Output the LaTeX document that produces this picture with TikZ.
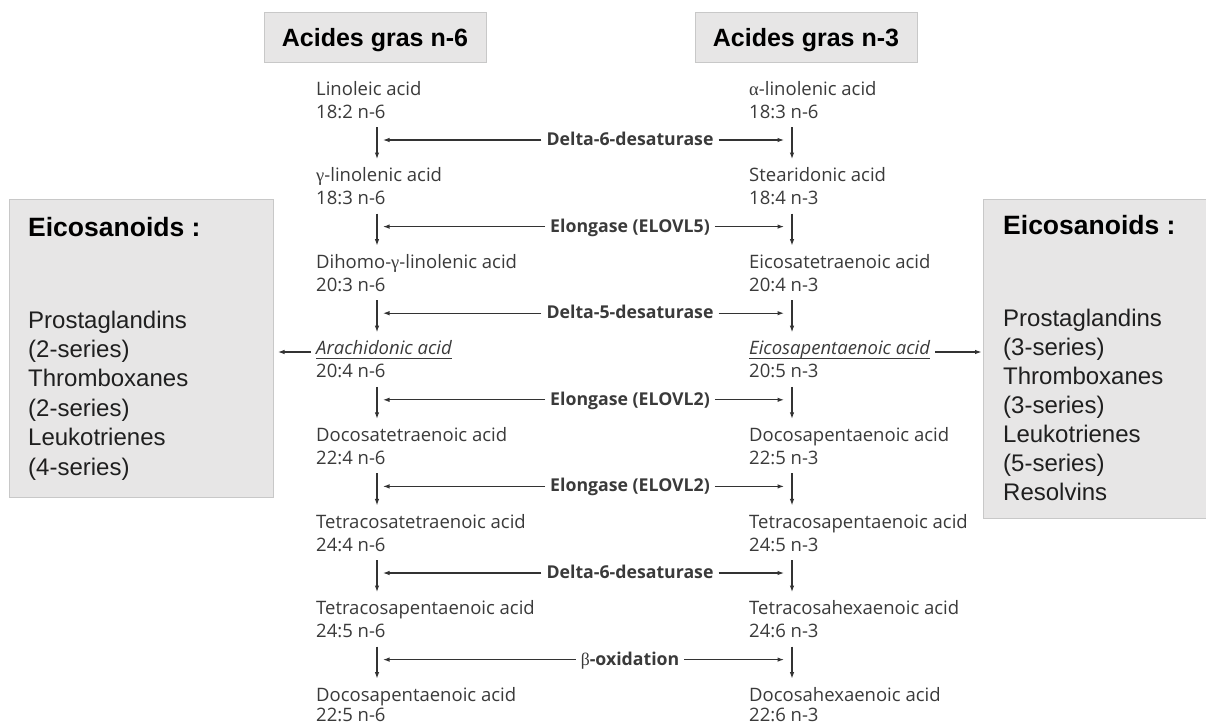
\documentclass[tikz,border=0pt]{standalone}
\usepackage{fontspec}
\setmainfont{Open Sans}
\newfontfamily\arialf{Liberation Sans}
\newfontfamily\grk{Liberation Serif}
\usetikzlibrary{arrows.meta,calc}
\definecolor{txt}{HTML}{3A3A3A}
\definecolor{lin}{HTML}{333333}
\definecolor{boxfill}{HTML}{E7E6E6}
\definecolor{boxline}{HTML}{C8C8C8}
\begin{document}
\begin{tikzpicture}[x=1pt,y=-1pt,
 acid/.style={anchor=base west, inner sep=0pt, font=\fontsize{18.5}{22}\selectfont, text=txt},
 enz/.style={anchor=base, inner xsep=5pt, inner ysep=0pt, font=\fontsize{17.7}{21}\selectfont\bfseries, text=txt},
 arr/.style={draw=lin, line width=1.1pt, -{Latex[length=6.5pt,width=4.5pt]}},
 hbox/.style={draw=boxline, fill=boxfill, line width=1pt, minimum width=222pt, minimum height=49pt, font=\arialf\bfseries\fontsize{25}{30}\selectfont, text height=18pt, text depth=0pt, inner sep=0pt},
 ebox/.style={draw=boxline, fill=boxfill, line width=1pt, anchor=north west, inner sep=0pt},
 etitle/.style={anchor=base west, inner sep=0pt, font=\arialf\bfseries\fontsize{26.5}{30}\selectfont},
 eitem/.style={anchor=base west, inner sep=0pt, font=\arialf\fontsize{24}{29}\selectfont, text=black!88},
 ul/.style={draw=txt, line width=0.9pt}
]
\useasboundingbox (0,0) rectangle (1206,725);
\fill[white] (0,0) rectangle (1206,725);

% headers
\node[hbox] (h6) at (375,37.5) {Acides gras n-6};
\node[hbox] (h3) at (806,37.5) {Acides gras n-3};

% eicosanoid boxes
\node[ebox, minimum width=264pt, minimum height=298pt] (boxL) at (9,199) {};
\node[ebox, minimum width=230pt, minimum height=319pt] (boxR) at (983,199) {};
\node[etitle] (tL) at (28,236) {Eicosanoids :};
\node[etitle] (tR) at (1003,234) {Eicosanoids :};
\foreach \t [count=\k] in {Prostaglandins,(2-series),Thromboxanes,(2-series),Leukotrienes,(4-series)}
  \node[eitem] (iL\k) at (28,{328+29.4*(\k-1)}) {\t};
\foreach \t [count=\k] in {Prostaglandins,(3-series),Thromboxanes,(3-series),Leukotrienes,(5-series),Resolvins}
  \node[eitem] (iR\k) at (1003,{326+29*(\k-1)}) {\t};

% column coordinates
\coordinate (vl) at (377,0);
\coordinate (vr) at (792,0);
\coordinate (tl) at (383,0);
\coordinate (tr) at (784,0);

% n-6 column
\node[acid] (L1) at (316,95) {Linoleic acid};
\node[acid] (Ln1) at (316,118) {18:2 n-6};
\node[acid] (L2) at (316,181.6) {{\grk γ}-linolenic acid};
\node[acid] (Ln2) at (316,204.6) {18:3 n-6};
\node[acid] (L3) at (316,268.2) {Dihomo-{\grk γ}-linolenic acid};
\node[acid] (Ln3) at (316,291.2) {20:3 n-6};
\node[acid] (L4) at (316,354.8) {\itshape Arachidonic acid};
\node[acid] (Ln4) at (316,377.8) {20:4 n-6};
\node[acid] (L5) at (316,441.4) {Docosatetraenoic acid};
\node[acid] (Ln5) at (316,464.4) {22:4 n-6};
\node[acid] (L6) at (316,528) {Tetracosatetraenoic acid};
\node[acid] (Ln6) at (316,551) {24:4 n-6};
\node[acid] (L7) at (316,614.6) {Tetracosapentaenoic acid};
\node[acid] (Ln7) at (316,637.6) {24:5 n-6};
\node[acid] (L8) at (316,701.2) {Docosapentaenoic acid};
\node[acid] (Ln8) at (316,721.5) {22:5 n-6};

% n-3 column
\node[acid] (R1) at (749,95) {{\grk α}-linolenic acid};
\node[acid] (Rn1) at (749,118) {18:3 n-6};
\node[acid] (R2) at (749,181.6) {Stearidonic acid};
\node[acid] (Rn2) at (749,204.6) {18:4 n-3};
\node[acid] (R3) at (749,268.2) {Eicosatetraenoic acid};
\node[acid] (Rn3) at (749,291.2) {20:4 n-3};
\node[acid] (R4) at (749,354.8) {\itshape Eicosapentaenoic acid};
\node[acid] (Rn4) at (749,377.8) {20:5 n-3};
\node[acid] (R5) at (749,441.4) {Docosapentaenoic acid};
\node[acid] (Rn5) at (749,464.4) {22:5 n-3};
\node[acid] (R6) at (749,528) {Tetracosapentaenoic acid};
\node[acid] (Rn6) at (749,551) {24:5 n-3};
\node[acid] (R7) at (749,614.6) {Tetracosahexaenoic acid};
\node[acid] (Rn7) at (749,637.6) {24:6 n-3};
\node[acid] (R8) at (749,701.2) {Docosahexaenoic acid};
\node[acid] (Rn8) at (749,721.5) {22:6 n-3};

% underlines
\draw[ul] ($(L4.base west)+(0,4)$) -- ($(L4.base east)+(0,4)$);
\draw[ul] ($(R4.base west)+(0,4)$) -- ($(R4.base east)+(0,4)$);

% enzymes
\coordinate (A1) at (630,140);
\coordinate (A2) at (630,226.6);
\coordinate (A3) at (630,313.2);
\coordinate (A4) at (630,399.8);
\coordinate (A5) at (630,486.4);
\coordinate (A6) at (630,573);
\coordinate (A7) at (630,659.6);
\node[enz] (E1) at (630,145.5) {Delta-6-desaturase};
\node[enz] (E2) at (630,232.1) {Elongase (ELOVL5)};
\node[enz] (E3) at (630,318.7) {Delta-5-desaturase};
\node[enz] (E4) at (630,405.3) {Elongase (ELOVL2)};
\node[enz] (E5) at (630,491.9) {Elongase (ELOVL2)};
\node[enz] (E6) at (630,578.5) {Delta-6-desaturase};
\node[enz] (E7) at (630,665.1) {{\grk\mdseries β}-oxidation};

\foreach \i/\j in {1/2,2/3,3/4,4/5,5/6,6/7,7/8} {
  \draw[arr] ($(Ln\i.base -| vl)+(0,9)$) -- ($(L\j.base -| vl)+(0,-22.6)$);
  \draw[arr] ($(Rn\i.base -| vr)+(0,9)$) -- ($(R\j.base -| vr)+(0,-22.6)$);
  \draw[arr] (E\i.west |- A\i) -- (tl |- A\i);
  \draw[arr] (E\i.east |- A\i) -- (tr |- A\i);
}

% to eicosanoids
\coordinate (yE) at (0,352);
\draw[arr, shorten <=5pt, shorten >=4pt] (L4.west |- yE) -- (boxL.east |- yE);
\draw[arr, shorten <=5pt, shorten >=1.5pt] (R4.east |- yE) -- (boxR.west |- yE);
\end{tikzpicture}
\end{document}
